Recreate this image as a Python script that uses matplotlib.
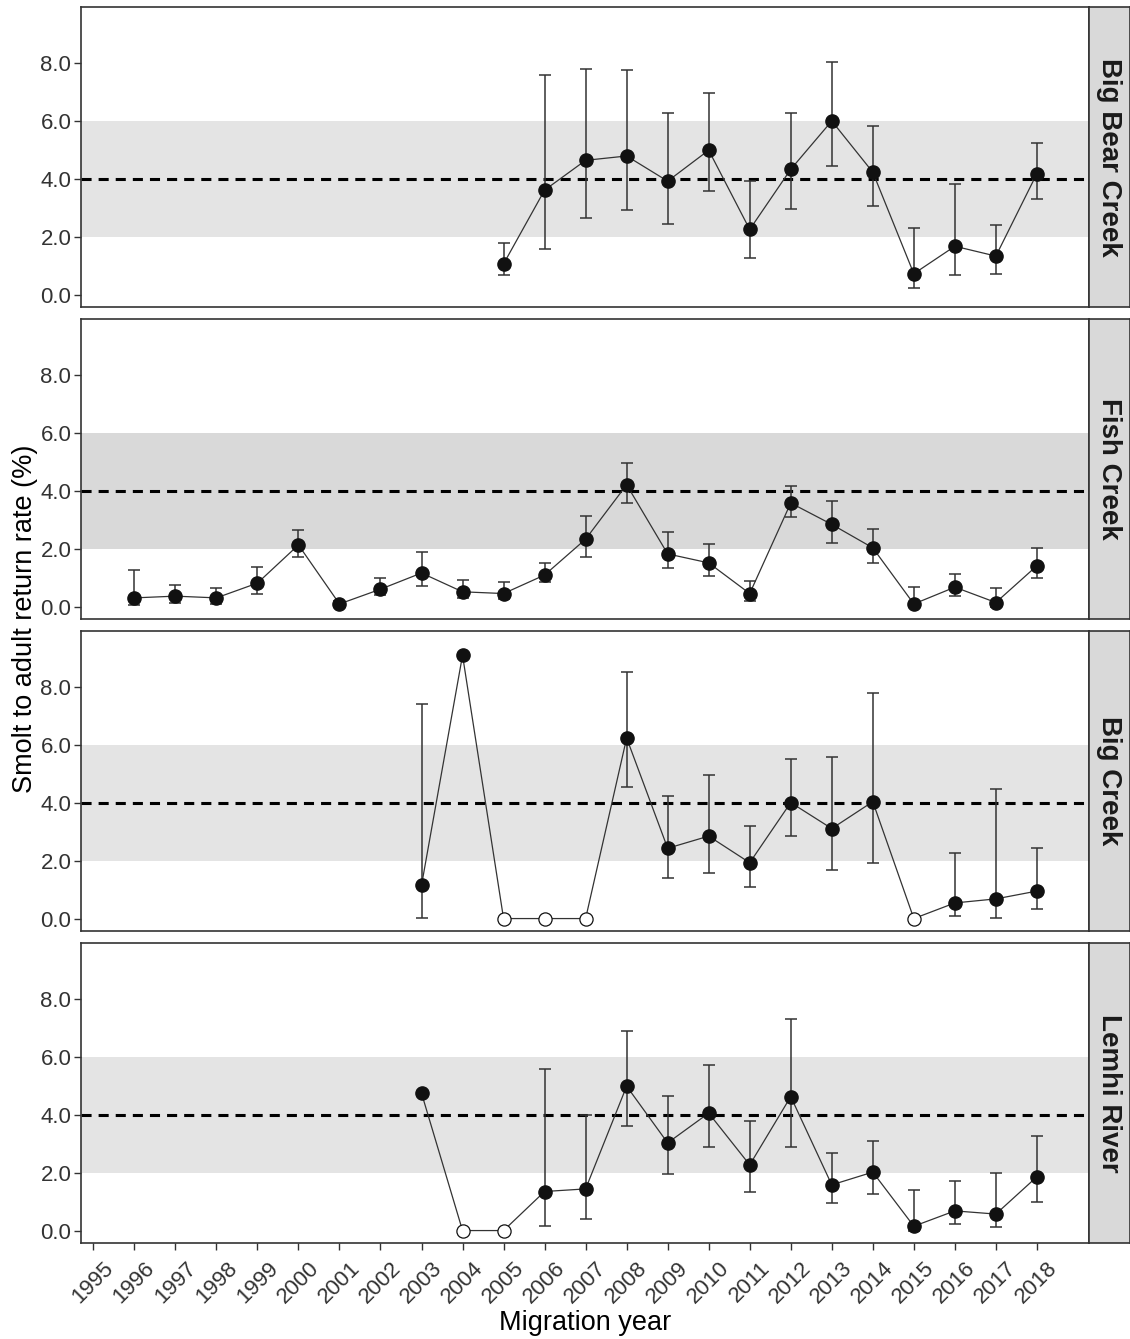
import numpy as np
import matplotlib.pyplot as plt
import matplotlib.transforms as mtransforms

plt.rcParams['font.family'] = ['Liberation Sans', 'DejaVu Sans']

nan = np.nan

# migration years on the x axis
years = list(range(1995, 2019))

sites = ['Big Bear Creek', 'Fish Creek', 'Big Creek', 'Lemhi River']

# smolt to adult return rate (%), one value per year 1995..2018, nan = no data
bigbear_sar = [nan, nan, nan, nan, nan, nan, nan, nan, nan, nan,
               1.06, 3.61, 4.64, 4.79, 3.92, 4.99, 2.25, 4.33, 6.00, 4.23,
               0.72, 1.67, 1.33, 4.18]
bigbear_lo = [nan, nan, nan, nan, nan, nan, nan, nan, nan, nan,
              0.67, 1.58, 2.64, 2.91, 2.45, 3.57, 1.28, 2.95, 4.44, 3.06,
              0.22, 0.67, 0.72, 3.31]
bigbear_hi = [nan, nan, nan, nan, nan, nan, nan, nan, nan, nan,
              1.79, 7.58, 7.79, 7.75, 6.26, 6.96, 3.92, 6.26, 8.05, 5.81,
              2.29, 3.82, 2.39, 5.24]

fish_sar = [nan, 0.30, 0.36, 0.30, 0.81, 2.13, 0.09, 0.60, 1.16, 0.51,
            0.45, 1.09, 2.33, 4.21, 1.82, 1.51, 0.45, 3.58, 2.84, 2.03,
            0.09, 0.67, 0.14, 1.41]
fish_lo = [nan, 0.06, 0.14, 0.09, 0.45, 1.72, 0.03, 0.41, 0.70, 0.30,
           0.25, 0.85, 1.72, 3.57, 1.33, 1.06, 0.20, 3.09, 2.18, 1.52,
           0.00, 0.36, 0.00, 0.97]
fish_hi = [nan, 1.28, 0.75, 0.65, 1.36, 2.63, 0.18, 1.00, 1.87, 0.91,
           0.85, 1.51, 3.14, 4.97, 2.58, 2.17, 0.90, 4.16, 3.64, 2.67,
           0.69, 1.14, 0.65, 2.02]

bigcreek_sar = [nan, nan, nan, nan, nan, nan, nan, nan, 1.15, 9.10,
                0.0, 0.0, 0.0, 6.24, 2.43, 2.85, 1.93, 4.01, 3.11, 4.04,
                0.0, 0.54, 0.68, 0.95]
bigcreek_lo = [nan, nan, nan, nan, nan, nan, nan, nan, 0.03, nan,
               nan, nan, nan, 4.55, 1.41, 1.57, 1.10, 2.85, 1.67, 1.93,
               nan, 0.08, 0.03, 0.33]
bigcreek_hi = [nan, nan, nan, nan, nan, nan, nan, nan, 7.41, nan,
               nan, nan, nan, 8.51, 4.24, 4.95, 3.20, 5.52, 5.57, 7.78,
               nan, 2.28, 4.48, 2.43]

lemhi_sar = [nan, nan, nan, nan, nan, nan, nan, nan, 4.75, 0.0,
             0.0, 1.35, 1.44, 4.99, 3.03, 4.06, 2.27, 4.63, 1.58, 2.02,
             0.15, 0.68, 0.57, 1.86]
lemhi_lo = [nan, nan, nan, nan, nan, nan, nan, nan, nan, nan,
            nan, 0.15, 0.41, 3.61, 1.95, 2.89, 1.35, 2.89, 0.94, 1.25,
            0.00, 0.21, 0.12, 0.99]
lemhi_hi = [nan, nan, nan, nan, nan, nan, nan, nan, nan, nan,
            nan, 5.58, 4.01, 6.91, 4.64, 5.72, 3.77, 7.32, 2.68, 3.10,
            1.39, 1.71, 1.98, 3.26]

# years where no adults returned (open symbols)
bigbear_zero = []
fish_zero = []
bigcreek_zero = [2005, 2006, 2007, 2015]
lemhi_zero = [2004, 2005]

sar_all = [bigbear_sar, fish_sar, bigcreek_sar, lemhi_sar]
lo_all = [bigbear_lo, fish_lo, bigcreek_lo, lemhi_lo]
hi_all = [bigbear_hi, fish_hi, bigcreek_hi, lemhi_hi]
zero_all = [bigbear_zero, fish_zero, bigcreek_zero, lemhi_zero]
band_cols = ['#e4e4e4', '#d9d9d9', '#e4e4e4', '#e4e4e4']

W, H = 1130, 1339
fig = plt.figure(figsize=(W / 100, H / 100), dpi=100)

left, right = 81, 1089
tops = [7, 319, 631, 943]
ph = 300
yrs = np.array(years)

for i, site in enumerate(sites):
    top = tops[i]
    ax = fig.add_axes([left / W, 1 - (top + ph) / H, (right - left) / W, ph / H])
    ax.axhspan(2, 6, color=band_cols[i], lw=0, zorder=0)
    ax.axhline(4, color='black', lw=2.2, ls=(0, (3.3, 2.3)), zorder=1)

    v = np.array(sar_all[i], dtype=float)
    lo = np.array(lo_all[i], dtype=float)
    hi = np.array(hi_all[i], dtype=float)
    ok = ~np.isnan(v)
    ax.plot(yrs[ok], v[ok], color='#333333', lw=0.9, zorder=2)

    eb = ~np.isnan(lo)
    ax.errorbar(yrs[eb], v[eb], yerr=[v[eb] - lo[eb], hi[eb] - v[eb]], fmt='none',
                ecolor='#333333', elinewidth=1.1, capsize=4.5, capthick=1.1, zorder=3)

    zero = np.isin(yrs, zero_all[i])
    filled = ok & ~zero
    ax.plot(yrs[filled], v[filled], 'o', ms=9.5, mfc='#111111', mec='#111111', zorder=4)
    ax.plot(yrs[zero], v[zero], 'o', ms=9.5, mfc='white', mec='#111111', mew=0.9, zorder=4)

    ax.set_xlim(1994.7, 2019.27)
    ax.set_ylim(-0.43, 9.94)
    ax.set_yticks([0, 2, 4, 6, 8])
    ax.set_yticklabels(['%.1f' % t for t in [0, 2, 4, 6, 8]])
    ax.tick_params(axis='y', labelsize=16, colors='#333333', labelcolor='#333333',
                   length=5, width=1, pad=2)
    for s in ax.spines.values():
        s.set_color('#333333')
        s.set_linewidth(1.2)

    if i == len(sites) - 1:
        ax.set_xticks(years)
        ax.set_xticklabels([str(y) for y in years], rotation=45, ha='right',
                           va='top', rotation_mode='anchor')
        ax.tick_params(axis='x', labelsize=16, colors='#333333', labelcolor='#333333',
                       length=5, width=1, pad=4)
        # nudge the slanted year labels like ggplot's hjust/vjust
        shift = mtransforms.ScaledTranslation(10 / 100, -2 / 100, fig.dpi_scale_trans)
        for lab in ax.get_xticklabels():
            lab.set_transform(lab.get_transform() + shift)
    else:
        ax.set_xticks([])

    # facet strip on the right
    sax = fig.add_axes([right / W, 1 - (top + ph) / H, (W - right) / W, ph / H])
    sax.set_facecolor('#d9d9d9')
    sax.set_xticks([])
    sax.set_yticks([])
    for s in sax.spines.values():
        s.set_color('#333333')
        s.set_linewidth(1.2)
    sax.text(0.5, 0.5, site, rotation=-90, ha='center', va='center',
             fontsize=20, fontweight='bold', color='#1a1a1a', transform=sax.transAxes)

fig.text(25 / W, 1 - 619 / H, 'Smolt to adult return rate (%)', rotation=90,
         ha='center', va='center', fontsize=19.5)
fig.text((left + right) / 2 / W, 1 - 1323 / H, 'Migration year',
         ha='center', va='center', fontsize=19.5)

fig.savefig('out.png', dpi=100, facecolor='white')
